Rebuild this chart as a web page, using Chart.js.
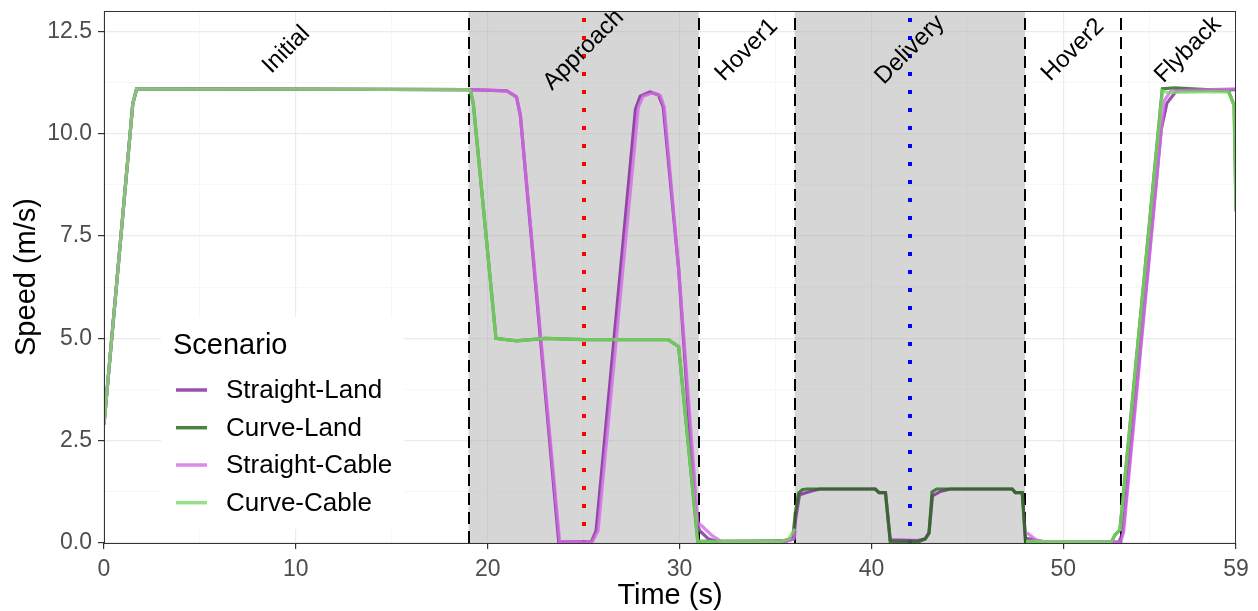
<!DOCTYPE html>
<html>
<head>
<meta charset="utf-8">
<script src="https://cdn.jsdelivr.net/npm/chart.js@4.4.1/dist/chart.umd.min.js"></script>
<style>
  html, body { margin: 0; padding: 0; background: #fff; }
  #wrap { width: 1258px; height: 611px; position: relative; }
</style>
</head>
<body>
<div id="wrap"><canvas id="myChart"></canvas></div>
<script>
const htmlChart = document.getElementById('myChart');
const FONT = "'Liberation Sans', Arial, sans-serif";

// scenario names + colours
const scenarios = ['Straight-Land', 'Curve-Land', 'Straight-Cable', 'Curve-Cable'];
const lineColors = ['rgba(125,38,150,0.8)', 'rgba(44,108,30,0.85)', 'rgba(210,108,230,0.8)', 'rgba(122,218,102,0.8)'];

// Straight-Land
const tSL = [0, 1.5, 1.7, 19, 21.0, 21.5, 21.7, 23.7, 25.4, 25.65, 27.7, 27.95, 28.45, 28.9, 29.15, 29.95, 30.85, 31.05, 31.5, 32.0, 35.5, 35.95, 36.05, 36.25, 36.8, 37.3, 40.2, 40.4, 40.73, 40.98, 42.4, 42.8, 43.0, 43.18, 43.6, 44.1, 47.33, 47.5, 47.86, 48.03, 48.5, 49.0, 52.9, 53.1, 55.1, 55.4, 55.9, 59];
const vSL = [2.9, 10.73, 11.1, 11.08, 11.05, 10.9, 10.45, 0.03, 0.03, 0.3, 10.6, 10.92, 11.02, 10.95, 10.65, 6.7, 0.55, 0.3, 0.1, 0.03, 0.04, 0.1, 0.6, 1.18, 1.26, 1.32, 1.32, 1.23, 1.23, 0.08, 0.06, 0.1, 0.25, 1.15, 1.26, 1.32, 1.32, 1.23, 1.23, 0.12, 0.07, 0.03, 0.02, 0.25, 10.1, 10.75, 11.05, 11.08];

// Curve-Land
const tCL = [0, 1.5, 1.7, 19, 19.1, 19.25, 20.43, 21.5, 23.0, 25.0, 29.4, 29.95, 30.95, 35.4, 35.9, 36.03, 36.2, 36.4, 36.6, 40.2, 40.4, 40.73, 40.98, 42.4, 42.8, 43.0, 43.16, 43.4, 47.33, 47.5, 47.86, 48.03, 52.5, 52.7, 52.95, 55.16, 55.8, 58.6, 58.9, 59];
const vCL = [2.9, 10.73, 11.1, 11.08, 11.05, 10.73, 5.0, 4.94, 5.0, 4.97, 4.97, 4.8, 0.04, 0.05, 0.12, 0.73, 1.22, 1.3, 1.32, 1.32, 1.23, 1.23, 0.02, 0.02, 0.1, 0.24, 1.25, 1.32, 1.32, 1.23, 1.23, 0.02, 0.02, 0.2, 0.32, 11.1, 11.12, 11.05, 10.7, 8.1];

// Straight-Cable (no samples during the delivery hover)
const tSC = [0, 1.5, 1.7, 19, 21.0, 21.5, 21.7, 23.75, 25.45, 25.75, 27.85, 28.1, 28.6, 29.0, 29.2, 29.95, 30.95, 31.15, 31.7, 32.2, 35.5, 35.95, 36.05, 36.1, 48.0, 48.1, 48.6, 49.0, 53.0, 53.15, 55.25, 55.6, 59];
const vSC = [2.9, 10.73, 11.1, 11.08, 11.05, 10.9, 10.45, 0.03, 0.03, 0.3, 10.65, 10.92, 11.0, 10.93, 10.65, 6.7, 0.5, 0.42, 0.18, 0.03, 0.04, 0.1, 0.3, null, null, 0.25, 0.07, 0.03, 0.02, 0.3, 10.8, 11.05, 11.1];

// Curve-Cable
const tCC = [0, 1.5, 1.7, 19, 19.1, 19.25, 20.43, 21.5, 23.0, 25.0, 29.4, 29.95, 30.95, 35.3, 35.7, 36.0, 36.05, 48.0, 48.05, 52.5, 52.7, 52.95, 55.16, 55.5, 56.2, 58.6, 58.9, 59];
const vCC = [2.9, 10.73, 11.1, 11.08, 11.05, 10.73, 5.0, 4.94, 5.0, 4.97, 4.97, 4.8, 0.04, 0.04, 0.1, 0.35, null, null, 0.04, 0.03, 0.2, 0.32, 11.05, 11.0, 11.02, 11.03, 10.7, 8.1];

// phases
const phaseNames = ['Initial', 'Approach', 'Hover1', 'Delivery', 'Hover2', 'Flyback'];
const phaseMid = [9.5, 25, 33.5, 42, 50.5, 56.5];
const phaseEdges = [19, 31, 36, 48, 53];
const shadedFrom = [19, 36];
const shadedTo = [31, 48];
const markerTimes = [25, 42];
const markerColors = ['#ff0000', '#0000ff'];

// axis breaks
const xMajor = [0, 10, 20, 30, 40, 50, 59];
const xMinor = [5, 15, 25, 35, 45, 54.5];
const yMajor = [0, 2.5, 5, 7.5, 10, 12.5];
const yMinor = [1.25, 3.75, 6.25, 8.75, 11.25];

function pts(t, v) {
  return t.map((x, i) => ({ x: x, y: v[i] }));
}

const seriesT = [tSL, tCL, tSC, tCC];
const seriesV = [vSL, vCL, vSC, vCC];

const datasets = scenarios.map((name, i) => ({
  label: name,
  data: pts(seriesT[i], seriesV[i]),
  borderColor: lineColors[i],
  borderWidth: 3.2,
  pointRadius: 0,
  tension: 0,
  fill: false,
  spanGaps: false,
  order: 4 - i, // last scenario drawn on top
}));

const decorPlugin = {
  id: 'decor',
  beforeDatasetsDraw(chart) {
    const { ctx, chartArea: a, scales: { x } } = chart;
    ctx.save();
    // gray phase bands
    ctx.fillStyle = 'rgba(173,173,173,0.5)';
    shadedFrom.forEach((s, i) => {
      const x0 = x.getPixelForValue(s), x1 = x.getPixelForValue(shadedTo[i]);
      ctx.fillRect(x0, a.top, x1 - x0, a.bottom - a.top);
    });
    // dashed phase borders
    ctx.strokeStyle = '#000';
    ctx.lineWidth = 2;
    ctx.setLineDash([12, 7]);
    phaseEdges.forEach(e => {
      const px = Math.round(x.getPixelForValue(e));
      ctx.beginPath();
      ctx.moveTo(px, a.bottom);
      ctx.lineTo(px, a.top);
      ctx.stroke();
    });
    // dotted markers
    ctx.lineWidth = 4;
    ctx.setLineDash([4, 14]);
    markerTimes.forEach((m, i) => {
      const px = Math.round(x.getPixelForValue(m));
      ctx.strokeStyle = markerColors[i];
      ctx.beginPath();
      ctx.moveTo(px, a.bottom + 1);
      ctx.lineTo(px, a.top);
      ctx.stroke();
    });
    ctx.restore();
  },
  afterDatasetsDraw(chart) {
    const { ctx, chartArea: a, scales: { x, y } } = chart;
    ctx.save();
    // panel border
    ctx.strokeStyle = '#333';
    ctx.lineWidth = 1;
    ctx.strokeRect(a.left + 0.5, a.top + 0.5, a.right - a.left - 1, a.bottom - a.top);

    // phase labels, rotated 45 deg
    ctx.fillStyle = '#000';
    ctx.font = '24px ' + FONT;
    ctx.textAlign = 'center';
    ctx.textBaseline = 'middle';
    phaseNames.forEach((p, i) => {
      ctx.save();
      ctx.translate(x.getPixelForValue(phaseMid[i]), y.getPixelForValue(12.05));
      ctx.rotate(-Math.PI / 4);
      ctx.fillText(p, 0, 0);
      ctx.restore();
    });

    // legend
    ctx.fillStyle = '#fff';
    ctx.fillRect(161, 317, 243, 212);
    ctx.fillStyle = '#000';
    ctx.textAlign = 'left';
    ctx.textBaseline = 'alphabetic';
    ctx.font = '29px ' + FONT;
    ctx.fillText('Scenario', 173, 354);
    ctx.font = '26px ' + FONT;
    ctx.textBaseline = 'middle';
    const keyY = [390, 427.7, 465, 502.7];
    scenarios.forEach((s, i) => {
      ctx.strokeStyle = lineColors[i];
      ctx.lineWidth = 3.5;
      ctx.beginPath();
      ctx.moveTo(176, keyY[i]);
      ctx.lineTo(207, keyY[i]);
      ctx.stroke();
      ctx.fillStyle = '#000';
      ctx.fillText(s, 226, keyY[i] + 1);
    });

    // axis titles
    ctx.font = '29px ' + FONT;
    ctx.textAlign = 'center';
    ctx.textBaseline = 'alphabetic';
    ctx.fillText('Time (s)', (a.left + a.right) / 2, 604);
    ctx.save();
    ctx.translate(35, (a.top + a.bottom) / 2);
    ctx.rotate(-Math.PI / 2);
    ctx.fillText('Speed (m/s)', 0, 0);
    ctx.restore();
    ctx.restore();
  }
};

const config = {
  type: 'line',
  data: { datasets: datasets },
  options: {
    responsive: true,
    maintainAspectRatio: false,
    animation: false,
    events: [],
    layout: { padding: { left: 0, top: 11, right: 22, bottom: 0 } },
    plugins: { legend: { display: false }, tooltip: { enabled: false } },
    scales: {
      x: {
        type: 'linear',
        min: 0,
        max: 59,
        afterBuildTicks: s => { s.ticks = xMajor.concat(xMinor).sort((p, q) => p - q).map(v => ({ value: v })); },
        afterFit: s => { s.height = 68; s.paddingLeft = 0; s.paddingRight = 0; },
        ticks: {
          autoSkip: false,
          maxRotation: 0,
          padding: 7,
          color: '#4d4d4d',
          font: { family: FONT, size: 23 },
          callback: v => (xMajor.includes(v) ? String(v) : ''),
        },
        grid: {
          color: c => (xMajor.includes(c.tick.value) ? '#ebebeb' : '#f3f3f3'),
          lineWidth: c => (xMajor.includes(c.tick.value) ? 1.2 : 0.7),
          tickColor: c => (xMajor.includes(c.tick.value) ? '#333' : 'rgba(0,0,0,0)'),
          tickLength: 6,
        },
        border: { display: false },
      },
      y: {
        min: 0,
        max: 13,
        afterBuildTicks: s => { s.ticks = yMajor.concat(yMinor).sort((p, q) => p - q).map(v => ({ value: v })); },
        afterFit: s => { s.width = 104; s.paddingTop = 0; s.paddingBottom = 0; },
        ticks: {
          autoSkip: false,
          padding: 6,
          color: '#4d4d4d',
          font: { family: FONT, size: 23 },
          callback: v => (yMajor.includes(v) ? v.toFixed(1) : ''),
        },
        grid: {
          color: c => (yMajor.includes(c.tick.value) ? '#ebebeb' : '#f3f3f3'),
          lineWidth: c => (yMajor.includes(c.tick.value) ? 1.2 : 0.7),
          tickColor: c => (yMajor.includes(c.tick.value) ? '#333' : 'rgba(0,0,0,0)'),
          tickLength: 6,
        },
        border: { display: false },
      }
    }
  },
  plugins: [decorPlugin]
};

new Chart(htmlChart, config);
</script>
</body>
</html>
